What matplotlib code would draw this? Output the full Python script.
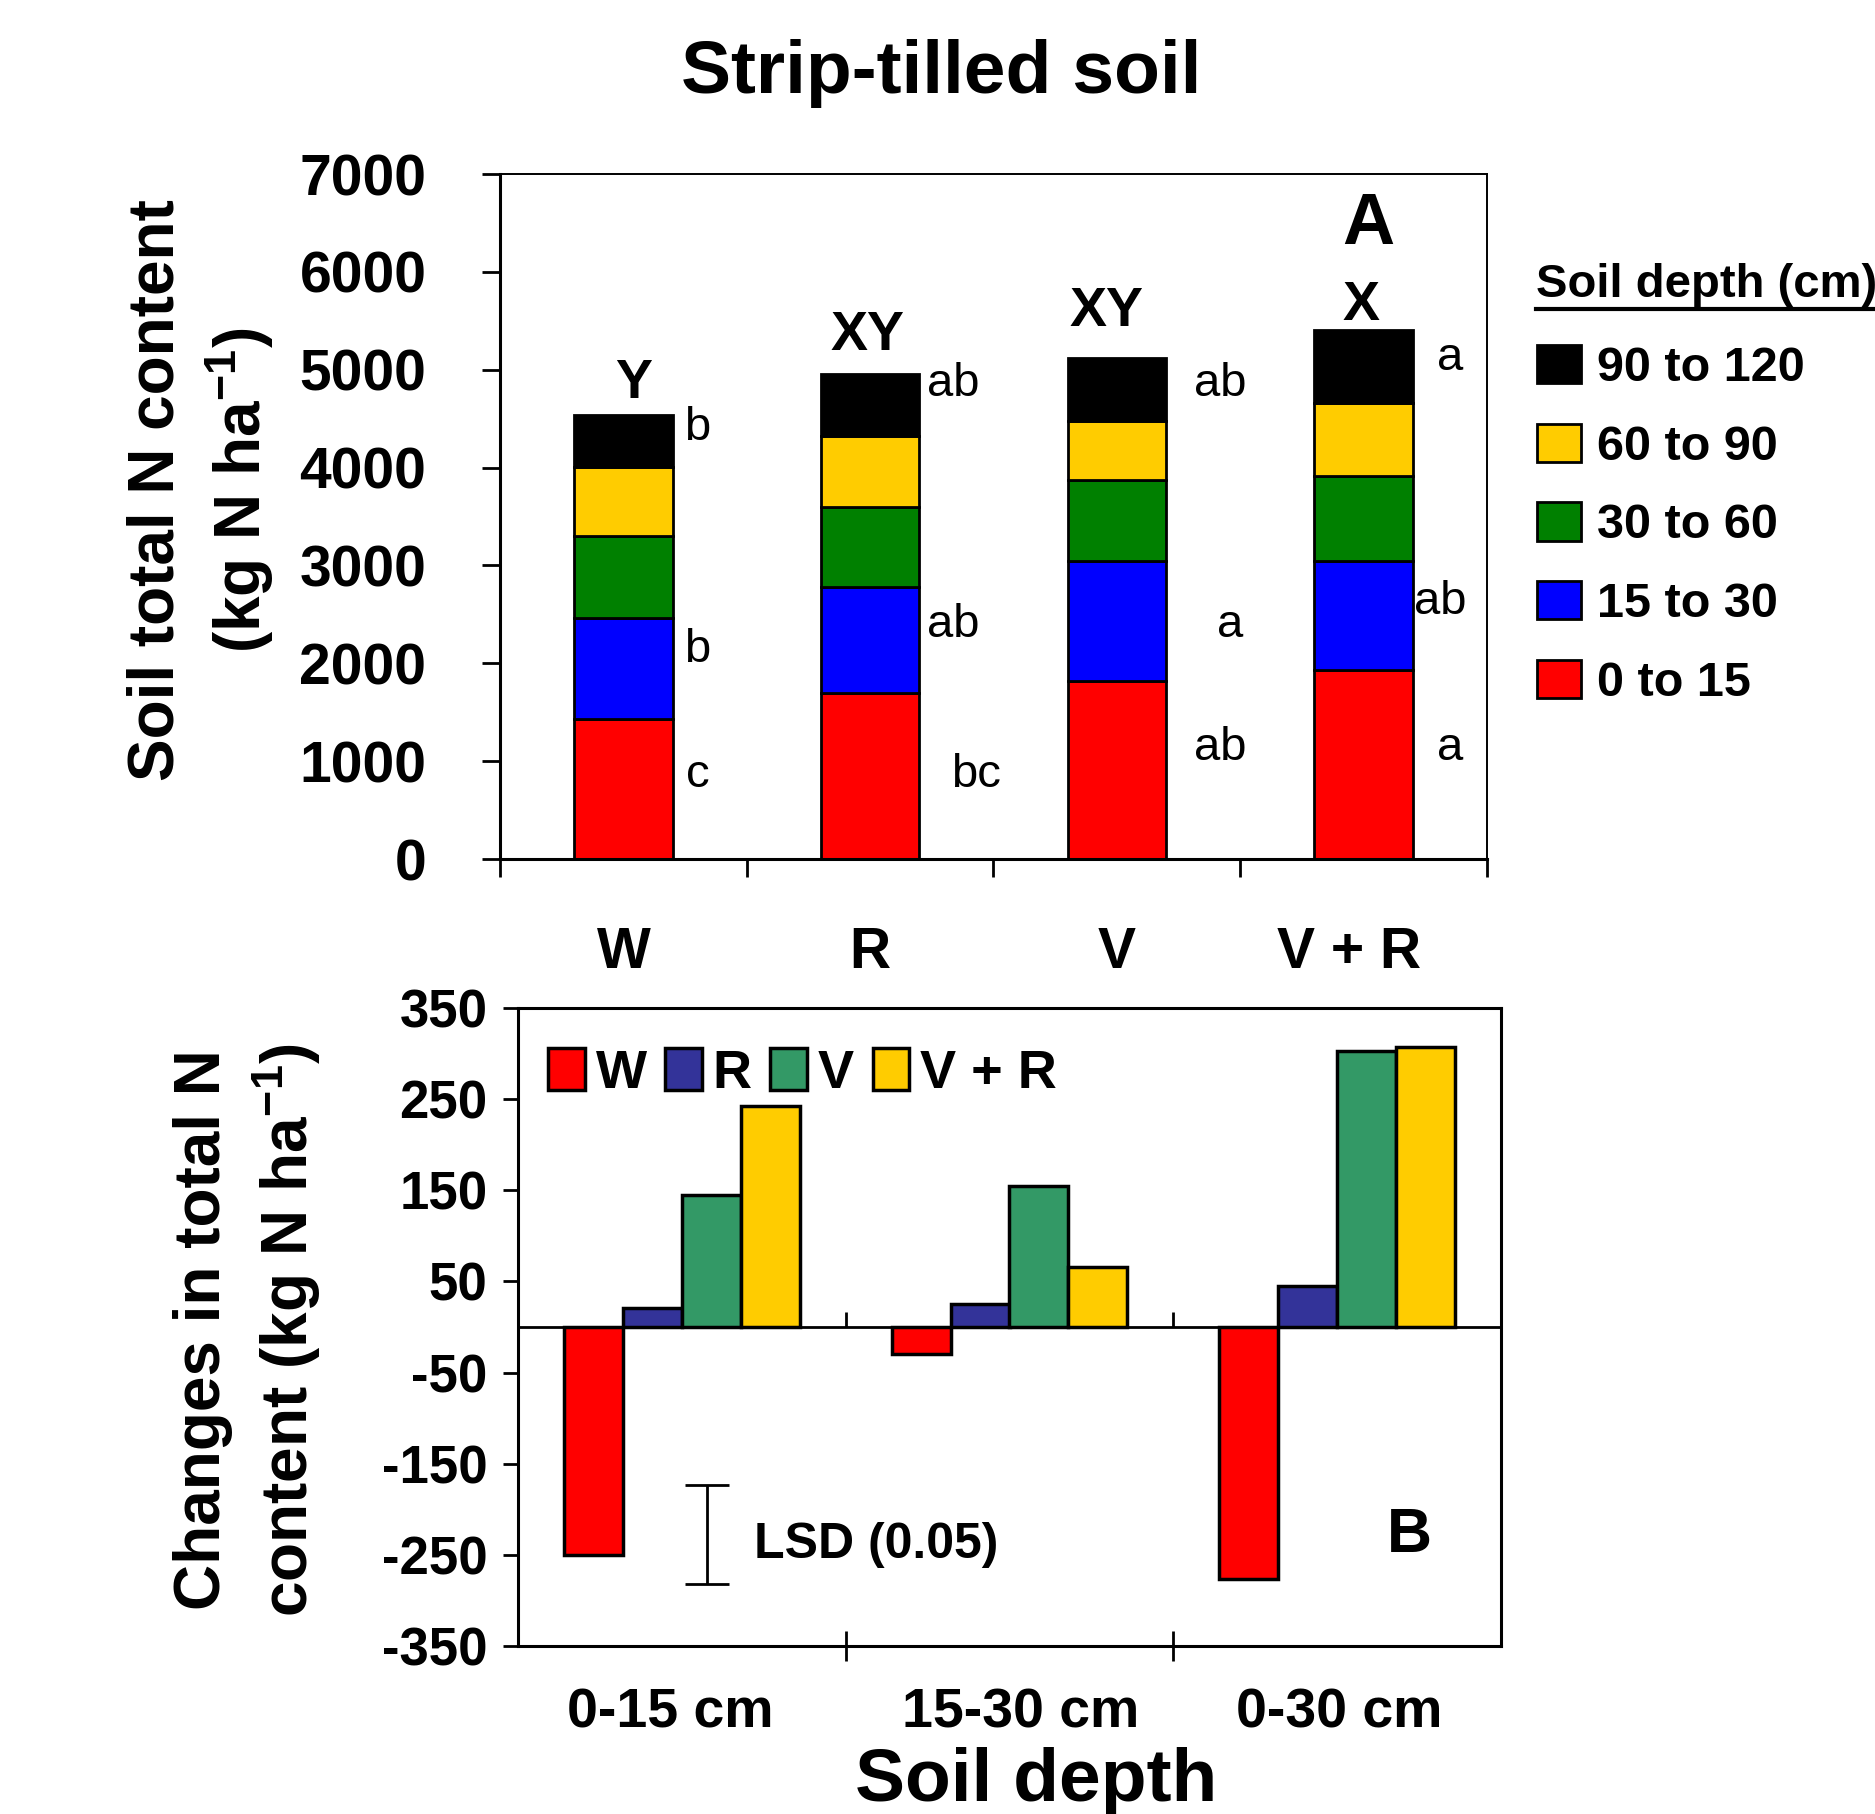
import numpy as np
import matplotlib
matplotlib.use('Agg')
import matplotlib.pyplot as plt
from matplotlib.lines import Line2D

plt.rcParams['font.family'] = ['Liberation Sans', 'DejaVu Sans']
plt.rcParams['mathtext.default'] = 'regular'
plt.rcParams['axes.unicode_minus'] = False

# panel A - soil total N content by layer (kg N/ha)
treatments = ['W', 'R', 'V', 'V + R']
depth_labels = ['0 to 15', '15 to 30', '30 to 60', '60 to 90', '90 to 120']
n_0_15 = [1430, 1700, 1820, 1930]
n_15_30 = [1035, 1075, 1225, 1115]
n_30_60 = [835, 825, 830, 865]
n_60_90 = [710, 720, 600, 745]
n_90_120 = [525, 635, 640, 755]

letters_top = ['b', 'ab', 'ab', 'a']
letters_15_30 = ['b', 'ab', 'a', 'ab']
letters_0_15 = ['c', 'bc', 'ab', 'a']
letters_total = ['Y', 'XY', 'XY', 'X']

# panel B - changes in total N (kg N/ha)
depth_groups = ['0-15 cm', '15-30 cm', '0-30 cm']
chg_W = [-250, -30, -276]
chg_R = [21, 25, 45]
chg_V = [145, 155, 303]
chg_VR = [242, 66, 307]
lsd = 109

layer_colors = ['#FF0000', '#0000FF', '#008000', '#FFCC00', '#000000']
trt_colors = ['#FF0000', '#333399', '#339966', '#FFCC00']

W, H = 1875, 1814
fig = plt.figure(figsize=(W / 100, H / 100), dpi=100)

# ---------- panel A ----------
ax1 = fig.add_axes([500 / W, 1 - 859 / H, 987 / W, 685 / H])
x = np.arange(len(treatments))
bottom = np.zeros(len(treatments))
bars = []
for vals, col, lab in zip([n_0_15, n_15_30, n_30_60, n_60_90, n_90_120], layer_colors, depth_labels):
    b = ax1.bar(x, vals, 0.4, bottom=bottom, color=col, edgecolor='black', linewidth=2, label=lab)
    bars.append(b)
    bottom += np.array(vals)

ax1.set_xlim(-0.5, 3.5)
ax1.set_ylim(0, 7000)
ax1.set_yticks(range(0, 7001, 1000))
ax1.set_xticks([-0.5, 0.5, 1.5, 2.5, 3.5])
ax1.set_xticklabels([])
# label spots under the bars (last one sits a little left in the original)
ax1.set_xticks([0, 1, 2, 2.94], minor=True)
ax1.set_xticklabels(treatments, minor=True, fontsize=41, fontweight='bold')
ax1.tick_params(axis='x', which='minor', length=0, pad=48)
ax1.tick_params(axis='x', which='major', length=13, width=2)
ax1.tick_params(axis='y', length=13, width=2, pad=40, labelsize=41)
for t in ax1.get_yticklabels():
    t.set_fontweight('bold')
for s in ['left', 'bottom']:
    ax1.spines[s].set_linewidth(2.2)
for s in ['top', 'right']:
    ax1.spines[s].set_linewidth(1.4)

# letters beside / above bars
top_pos = [(0.30, 4400), (1.335, 4854), (2.42, 4854), (3.35, 5122)]
mid_pos = [(0.30, 2134), (1.335, 2390), (2.46, 2390), (3.31, 2622)]
low_pos = [(0.30, 854), (1.43, 854), (2.42, 1134), (3.35, 1134)]
tot_pos = [(0.04, 4854), (0.99, 5341), (1.96, 5585), (2.99, 5646)]
for lets, pos in [(letters_top, top_pos), (letters_15_30, mid_pos), (letters_0_15, low_pos)]:
    for s, (px, py) in zip(lets, pos):
        ax1.text(px, py, s, fontsize=34, ha='center', va='center')
for s, (px, py) in zip(letters_total, tot_pos):
    ax1.text(px, py, s, fontsize=40, fontweight='bold', ha='center', va='center')
ax1.text(3.02, 6476, 'A', fontsize=52, fontweight='bold', ha='center', va='center')

fig.legend(bars[::-1], depth_labels[::-1], loc='upper left',
           bbox_to_anchor=(1537 / W, 1 - 345 / H), frameon=False,
           prop={'weight': 'bold', 'size': 35}, handlelength=0.9, handleheight=0.84,
           handletextpad=0.33, labelspacing=0.67, borderpad=0, borderaxespad=0)
fig.text(1536 / W, 1 - 297 / H, 'Soil depth (cm)', fontsize=34, fontweight='bold', va='baseline')
fig.add_artist(Line2D([1536 / W, 1.0], [1 - 309 / H] * 2, color='black', lw=3))

# ---------- panel B ----------
ax2 = fig.add_axes([518 / W, 1 - 1646 / H, 983 / W, 638 / H])
g = np.arange(len(depth_groups))
bw = 0.18
for k, (vals, col, lab) in enumerate(zip([chg_W, chg_R, chg_V, chg_VR], trt_colors, treatments)):
    ax2.bar(g + (k - 1.5) * bw, vals, bw, color=col, edgecolor='black', linewidth=2.5, label=lab)

ax2.set_xlim(-0.5, 2.5)
ax2.set_ylim(-350, 350)
ax2.set_yticks(range(-350, 351, 100))
ax2.set_xticks([0.5, 1.5])
ax2.set_xticklabels([])
ax2.set_xticks([-0.036, 1.033, 2.007], minor=True)
ax2.set_xticklabels(depth_groups, minor=True, fontsize=40, fontweight='bold')
ax2.tick_params(axis='x', which='minor', length=0, pad=30)
ax2.tick_params(axis='x', which='major', direction='inout', length=21, width=2)
ax2.tick_params(axis='y', length=11, width=2, pad=11, labelsize=38)
for t in ax2.get_yticklabels():
    t.set_fontweight('bold')
for s in ax2.spines.values():
    s.set_linewidth(2.2)

ax2.axhline(0, color='black', lw=2, zorder=0.5)
sec = ax2.secondary_xaxis(0.5)
sec.set_xticks([0.5, 1.5])
sec.set_xticklabels([])
sec.tick_params(length=11, width=2)
sec.spines['bottom'].set_linewidth(2)

ax2.errorbar(0.077, -228, yerr=lsd / 2, color='black', capsize=16, capthick=2, elinewidth=2)
ax2.text(0.219, -239, 'LSD (0.05)', fontsize=36, fontweight='bold', ha='left', va='center')
ax2.text(2.22, -229, 'B', fontsize=45, fontweight='bold', ha='center', va='center')

ax2.legend(loc='upper left', bbox_to_anchor=(0.0305, 0.937), ncol=4, frameon=False,
           prop={'weight': 'bold', 'size': 39}, handlelength=0.68, handleheight=0.82,
           handletextpad=0.2, columnspacing=0.34, borderpad=0, borderaxespad=0)

# ---------- figure text ----------
fig.text(941 / W, 1 - 74 / H, 'Strip-tilled soil', fontsize=54, fontweight='bold', ha='center', va='center')
fig.text(201 / W, 1 - 490 / H, 'Soil total N content\n(kg N ha$^{-1}$)', rotation=90,
         fontsize=46, fontweight='bold', ha='center', va='center', linespacing=1.3)
fig.text(248 / W, 1 - 1330 / H, 'Changes in total N\ncontent (kg N ha$^{-1}$)', rotation=90,
         fontsize=46, fontweight='bold', ha='center', va='center', linespacing=1.3)
fig.text(1036 / W, 1 - 1782 / H, 'Soil depth', fontsize=54, fontweight='bold', ha='center', va='center')

fig.savefig('out.png', dpi=100)
